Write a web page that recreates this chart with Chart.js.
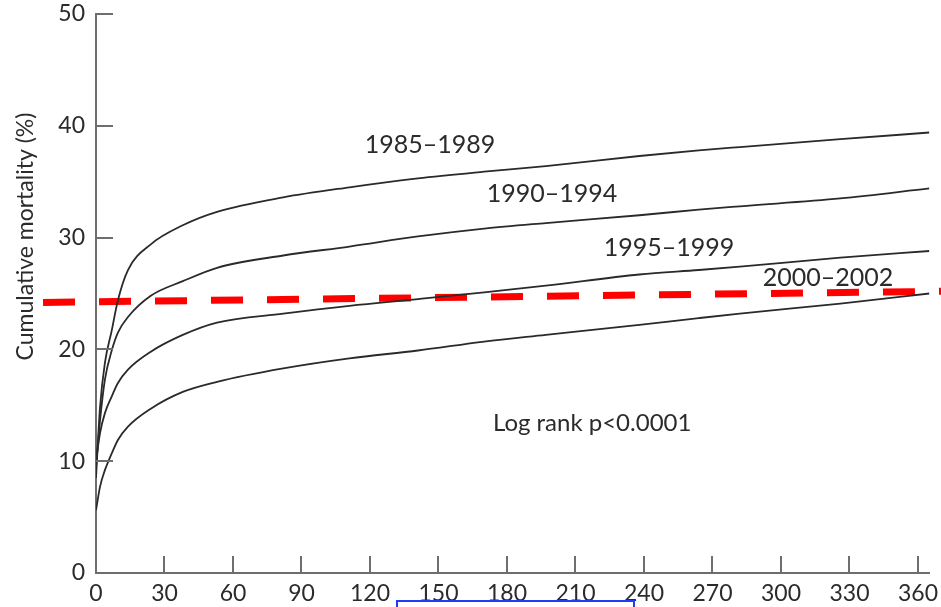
<!DOCTYPE html>
<html>
<head>
<meta charset="utf-8">
<script src="https://cdn.jsdelivr.net/npm/chart.js@4"></script>
<style>
  html, body { margin: 0; padding: 0; background: #fff; overflow: hidden; }
  #wrap { position: relative; width: 941px; height: 607px; }
  #sel { position: absolute; left: 396px; top: 600px; width: 235px; height: 30px; border: 2px solid #1e3cff; }
</style>
</head>
<body>
<div id="wrap">
  <canvas id="c" width="941" height="607"></canvas>
  <div id="sel"></div>
</div>
<script>
// Cumulative mortality (%) by days since admission, per admission period
const periods = ['1985–1989', '1990–1994', '1995–1999', '2000–2002'];
const days = [0, 1.75, 3.9, 6.9, 9.6, 14, 24, 38, 53, 82, 111, 141, 170, 197, 238, 264, 282, 326, 365];
const mort8589 = [8.5, 14.8, 18.8, 21.7, 24.4, 27.1, 29.4, 31.1, 32.3, 33.6, 34.5, 35.3, 35.9, 36.4, 37.3, 37.8, 38.1, 38.8, 39.4];
const mort9094 = [9.5, 13.6, 17.3, 19.9, 21.5, 22.9, 24.8, 26.1, 27.3, 28.4, 29.2, 30.1, 30.8, 31.3, 32.0, 32.5, 32.8, 33.5, 34.4];
const mort9599 = [10.0, 12.5, 14.3, 15.8, 17.0, 18.2, 19.8, 21.3, 22.4, 23.2, 23.9, 24.5, 25.1, 25.7, 26.7, 27.1, 27.4, 28.2, 28.8];
const mort0002 = [5.6, 7.7, 9.2, 10.7, 11.9, 13.1, 14.7, 16.2, 17.1, 18.3, 19.2, 19.9, 20.7, 21.3, 22.2, 22.8, 23.2, 24.1, 25.0];
// Reference level drawn as a red dashed line
const refDays = [-23.2, 372];
const refMort = [24.2, 25.2];
// Axis ticks
const xTicks = [0, 30, 60, 90, 120, 150, 180, 210, 240, 270, 300, 330, 360];
const yTicks = [0, 10, 20, 30, 40, 50];
const yTitle = 'Cumulative mortality (%)';
const pValueText = 'Log rank p<0.0001';

const FONT = 'Lato, "Open Sans", "DejaVu Sans", sans-serif';
const TEXT = '#2b2b2b';
const AXIS = '#6e6e6e';

const toPts = (xs, ys) => xs.map((x, i) => ({ x: x, y: ys[i] }));
const series = [mort8589, mort9094, mort9599, mort0002];

const curveSets = series.map((vals, i) => ({
  label: periods[i],
  data: toPts(days, vals),
  borderColor: '#2a2a2a',
  borderWidth: 1.8,
  cubicInterpolationMode: 'monotone',
  pointRadius: 0,
  fill: false
}));

const refSet = {
  label: 'reference',
  data: toPts(refDays, refMort),
  borderColor: '#ff0000',
  borderWidth: 7,
  borderDash: [32, 24],
  borderCapStyle: 'butt',
  pointRadius: 0,
  fill: false,
  clip: false
};

// Inward tick marks on both axes
const tickMarks = {
  id: 'tickMarks',
  afterDraw(chart) {
    const { ctx, scales: { x, y } } = chart;
    const len = 17;
    ctx.save();
    ctx.strokeStyle = AXIS;
    ctx.lineWidth = 2;
    ctx.beginPath();
    yTicks.slice(1).forEach(v => {
      const py = Math.round(y.getPixelForValue(v));
      ctx.moveTo(x.left, py);
      ctx.lineTo(x.left + len, py);
    });
    xTicks.slice(1).forEach(v => {
      const px = Math.round(x.getPixelForValue(v));
      ctx.moveTo(px, y.bottom);
      ctx.lineTo(px, y.bottom - len);
    });
    ctx.stroke();
    ctx.restore();
  }
};

// Period labels, p-value note and the vertical axis title
const annotations = {
  id: 'annotations',
  afterDraw(chart, args, opts) {
    const { ctx, scales: { x, y } } = chart;
    ctx.save();
    ctx.fillStyle = TEXT;
    ctx.textAlign = 'center';
    ctx.textBaseline = 'middle';
    opts.labels.forEach(l => {
      ctx.font = l.size + 'px ' + FONT;
      ctx.fillText(l.text, x.getPixelForValue(l.day), y.getPixelForValue(l.value));
    });
    ctx.translate(opts.titleX, y.getPixelForValue(opts.titleValue));
    ctx.rotate(-Math.PI / 2);
    ctx.font = '23px ' + FONT;
    ctx.fillText(yTitle, 0, 0);
    ctx.restore();
  }
};

new Chart(document.getElementById('c'), {
  type: 'line',
  data: { datasets: [...curveSets, refSet] },
  plugins: [tickMarks, annotations],
  options: {
    responsive: false,
    animation: false,
    layout: { padding: { left: 0, right: 11.6, top: 14, bottom: 0 } },
    plugins: {
      legend: { display: false },
      tooltip: { enabled: false },
      annotations: {
        titleX: 26,
        titleValue: 30.1,
        labels: [
          { text: periods[0], day: 146.3, value: 38.3, size: 25 },
          { text: periods[1], day: 199.7, value: 33.9, size: 25 },
          { text: periods[2], day: 250.9, value: 29.1, size: 25 },
          { text: periods[3], day: 320.6, value: 26.4, size: 25 },
          { text: pValueText, day: 217.3, value: 13.4, size: 24 }
        ]
      }
    },
    scales: {
      x: {
        type: 'linear',
        min: 0,
        max: 365,
        afterBuildTicks: s => { s.ticks = xTicks.map(v => ({ value: v })); },
        afterFit: s => { s.height = 34; s.paddingLeft = 0; s.paddingRight = 0; },
        grid: { display: false, drawTicks: false },
        border: { display: true, color: AXIS, width: 2 },
        ticks: { color: TEXT, font: { family: FONT, size: 23 }, padding: 7, maxRotation: 0, autoSkip: false }
      },
      y: {
        type: 'linear',
        min: 0,
        max: 50,
        afterBuildTicks: s => { s.ticks = yTicks.map(v => ({ value: v })); },
        afterFit: s => { s.width = 96; s.paddingTop = 0; s.paddingBottom = 0; },
        grid: { display: false, drawTicks: false },
        border: { display: true, color: AXIS, width: 2 },
        ticks: { color: TEXT, font: { family: FONT, size: 23 }, padding: 11 }
      }
    }
  }
});
</script>
</body>
</html>
